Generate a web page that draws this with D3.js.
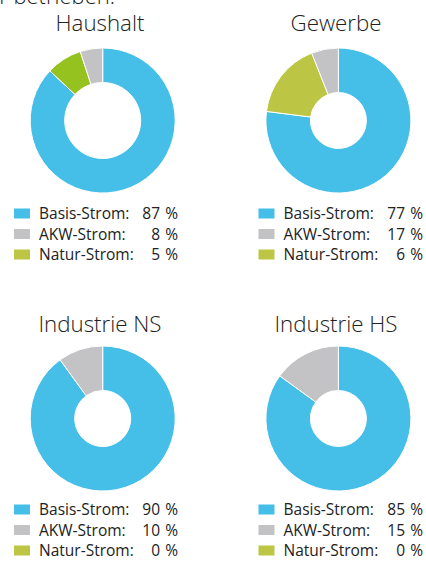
<!DOCTYPE html>
<html>
<head>
<meta charset="utf-8">
<script src="https://cdn.jsdelivr.net/npm/d3@7"></script>
<style>
  body { margin: 0; background: #fff; }
  svg { display: block; font-family: "Open Sans", "Noto Sans", sans-serif; }
</style>
</head>
<body>
<svg id="chart" width="426" height="562"></svg>
<script>
// the data
const segments = ['Haushalt', 'Gewerbe', 'Industrie NS', 'Industrie HS'];
const categories = ['Basis-Strom', 'AKW-Strom', 'Natur-Strom'];
// legend values (as printed)
const legendShares = [
  [87, 8, 5],
  [77, 17, 6],
  [90, 10, 0],
  [85, 15, 0]
];
// slice sizes as drawn, clockwise from 12 o'clock: basis, natur, akw
const pieShares = [
  [87, 8, 5],
  [77, 17, 6],
  [90, 0, 10],
  [85, 0, 15]
];

const blue = '#45bfe8', grey = '#c3c3c5', olive = '#bdc545', green = '#96c21f';
const legendColors = [blue, grey, olive];
const pieColors = [
  [blue, green, grey],
  [blue, olive, grey],
  [blue, olive, grey],
  [blue, olive, grey]
];

const svg = d3.select('#chart');

// cut-off line from the text above
svg.append('text')
  .attr('x', 115).attr('y', 4)
  .attr('text-anchor', 'end')
  .attr('font-size', 22)
  .attr('font-weight', 300)
  .attr('fill', '#222')
  .text('Jahr betrieben.');

// panel layout
const titleX = [100, 336];
const pieX = [102.7, 338.4];
const rows = [{title: 31, cy: 120.5, legend: 219}, {title: 332, cy: 418.5, legend: 515}];
const holes = [38, 28, 28, 28];
const outerR = 72.5;

const pie = d3.pie().sort(null).value(d => d);

segments.forEach((name, i) => {
  const col = i % 2;
  const row = rows[Math.floor(i / 2)];
  const g = svg.append('g');

  g.append('text')
    .attr('x', titleX[col]).attr('y', row.title)
    .attr('text-anchor', 'middle')
    .attr('font-size', 22.3)
    .attr('font-weight', 300)
    .attr('fill', '#222')
    .text(name);

  const arc = d3.arc().innerRadius(holes[i]).outerRadius(outerR);
  g.append('g')
    .attr('transform', `translate(${pieX[col]},${row.cy})`)
    .selectAll('path')
    .data(pie(pieShares[i]))
    .join('path')
    .attr('d', arc)
    .attr('fill', (d, j) => pieColors[i][j])
    .attr('stroke', '#fff')
    .attr('stroke-width', d => d.value > 0 ? 1 : 0);

  // legend
  const lx = col === 0 ? 14 : 258.5;
  const rx = col === 0 ? 178 : 423;
  const y = d3.scalePoint().domain(categories).range([row.legend, row.legend + 41]);
  const leg = g.selectAll('g.leg')
    .data(categories)
    .join('g')
    .attr('class', 'leg');
  leg.append('rect')
    .attr('x', lx).attr('y', c => y(c) - 10.5)
    .attr('width', 16).attr('height', 10)
    .attr('fill', (c, j) => legendColors[j]);
  leg.append('text')
    .attr('x', lx + 25).attr('y', c => y(c))
    .attr('font-size', 15.5)
    .attr('fill', '#222')
    .text(c => c + ':');
  leg.append('text')
    .attr('x', rx).attr('y', c => y(c))
    .attr('text-anchor', 'end')
    .attr('font-size', 15.5)
    .attr('fill', '#222')
    .text((c, j) => legendShares[i][j] + '\u2004%');
});
</script>
</body>
</html>
